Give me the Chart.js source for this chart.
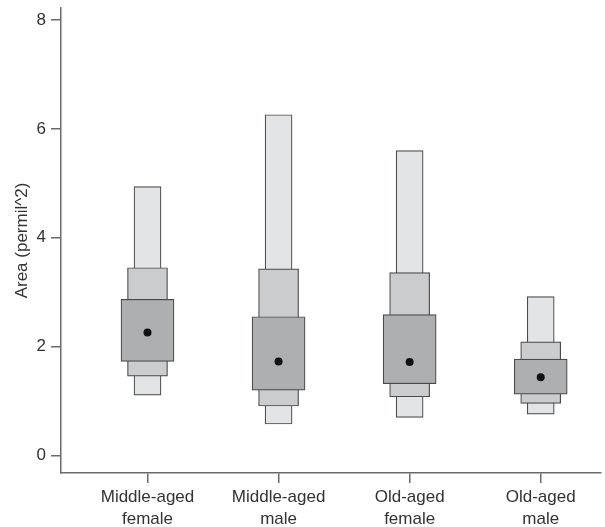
<!DOCTYPE html>
<html>
<head>
<meta charset="utf-8">
<script src="https://cdn.jsdelivr.net/npm/chart.js@4"></script>
<style>
  html, body { margin: 0; padding: 0; background: #fff; }
  #wrap { width: 605px; height: 527px; }
</style>
</head>
<body>
<div id="wrap"><canvas id="lvplot"></canvas></div>
<script>
const categories = [["Middle-aged", "female"], ["Middle-aged", "male"], ["Old-aged", "female"], ["Old-aged", "male"]];
const medians = [2.26, 1.73, 1.72, 1.44];
const innerLow = [1.73, 1.20, 1.32, 1.13];
const innerHigh = [2.87, 2.55, 2.59, 1.77];
const midLow = [1.46, 0.91, 1.08, 0.96];
const midHigh = [3.45, 3.43, 3.36, 2.09];
const outerLow = [1.11, 0.58, 0.70, 0.76];
const outerHigh = [4.94, 6.26, 5.60, 2.92];
const yTicks = [0, 2, 4, 6, 8];

const boxes = (lo, hi) => lo.map((v, i) => ({ x: i, y: [v, hi[i]] }));

const txt = "#333";
const axisCol = "#6a6a6a";
const font = "Liberation Sans, Arial, sans-serif";

new Chart(document.getElementById("lvplot"), {
  type: "bar",
  data: {
    datasets: [
      {
        type: "scatter",
        data: medians.map((v, i) => ({ x: i, y: v })),
        pointRadius: 4,
        pointBackgroundColor: "#111",
        pointBorderWidth: 0,
        order: 0
      },
      {
        data: boxes(innerLow, innerHigh),
        backgroundColor: "#aeafb1",
        borderColor: "#4a4a4a",
        borderWidth: 1.2,
        borderSkipped: false,
        barThickness: 53,
        order: 1
      },
      {
        data: boxes(midLow, midHigh),
        backgroundColor: "#cbcccd",
        borderColor: "#4a4a4a",
        borderWidth: 1.2,
        borderSkipped: false,
        barThickness: 40,
        order: 2
      },
      {
        data: boxes(outerLow, outerHigh),
        backgroundColor: "#e3e4e5",
        borderColor: "#4a4a4a",
        borderWidth: 1.2,
        borderSkipped: false,
        barThickness: 27,
        order: 3
      }
    ]
  },
  options: {
    responsive: true,
    maintainAspectRatio: false,
    animation: false,
    grouped: false,
    layout: { padding: { top: 8, right: 0, bottom: 0, left: 0 } },
    plugins: { legend: { display: false }, tooltip: { enabled: false } },
    scales: {
      x: {
        type: "linear",
        offset: false,
        min: -0.66,
        max: 3.46,
        afterBuildTicks: s => { s.ticks = categories.map((c, i) => ({ value: i })); },
        afterFit: s => { s.height = 54; },
        grid: { offset: false, drawOnChartArea: false, tickLength: 10, color: axisCol, lineWidth: 1.5 },
        border: { display: true, color: axisCol, width: 1.5 },
        ticks: {
          color: txt,
          font: { family: font, size: 17, lineHeight: 1.25 },
          padding: 4,
          maxRotation: 0,
          callback: v => categories[v]
        }
      },
      y: {
        min: -0.32,
        max: 8.22,
        afterBuildTicks: s => { s.ticks = yTicks.map(v => ({ value: v })); },
        afterFit: s => { s.width = 61; s.paddingTop = 0; s.paddingBottom = 0; },
        grid: { drawOnChartArea: false, tickLength: 10, color: axisCol, lineWidth: 1.5 },
        border: { display: true, color: axisCol, width: 1.5 },
        ticks: {
          color: txt,
          font: { family: font, size: 17 },
          padding: 5
        },
        title: {
          display: true,
          text: "Area (permil^2)",
          color: txt,
          font: { family: font, size: 17 },
          padding: { top: 12, bottom: 0 }
        }
      }
    }
  }
});
</script>
</body>
</html>
